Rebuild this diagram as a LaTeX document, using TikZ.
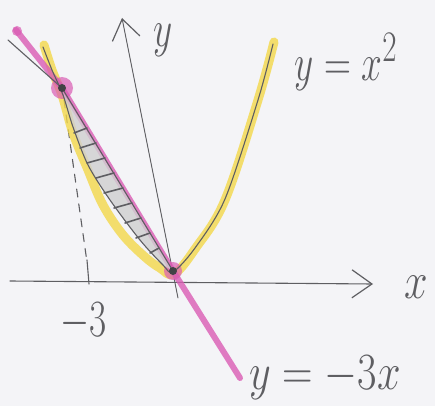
\documentclass[tikz,border=0pt]{standalone}
\usepackage{tikz}
\usetikzlibrary{arrows.meta}
\definecolor{paper}{HTML}{F4F4F7}
\definecolor{lead}{HTML}{5E5E62}
\definecolor{hilite}{HTML}{F3D84A}
\definecolor{rosy}{HTML}{DA5CB4}
\tikzset{pencil/.style={draw=lead,line width=1.1pt,line cap=round,line join=round},marker/.style={line width=9pt,line cap=round,line join=round,opacity=.8},hand/.style={font=\fontsize{24.88}{30}\selectfont,text=lead,inner sep=0pt},barb/.style={-{Straight Barb[length=20pt,width=28pt,line width=1.2pt]}}}
\newcommand{\handtxt}[2][1.5]{\scalebox{#1}[2.1]{$#2$}}

\begin{document}
\begin{tikzpicture}[x=1pt,y=-1pt]
\fill[paper] (0,0) rectangle (435,406);
\coordinate (xs) at (10,281);
\coordinate (xe) at (373,284);
\coordinate (ys) at (178,298);
\coordinate (ye) at (122,18);
\coordinate (A) at (62,88);
\coordinate (O) at (173,271);
% axes
\draw[pencil,barb] (xs) -- (xe);
\draw[pencil,line width=.9pt,barb] (ys) -- (ye);
\draw[pencil,dash pattern=on 8pt off 7pt] (64,100) -- (87,262);
\draw[pencil] (87,260) -- (89,284);
% marker strokes
\draw[marker,draw=hilite] plot[smooth,tension=.6] coordinates {(44,45) (52,70) (62,95) (73,133) (88,170) (103,205) (123,235) (145,257) (160,268) (174,274) (195,249) (225,200) (258,100) (274,42)};
\draw[marker,draw=rosy,line width=6pt] (16,30) -- (A) -- (O) -- (240,378);
\fill[rosy,opacity=.7] (A) circle (11);
\fill[rosy,opacity=.7] (O) circle (9);
\fill[rosy,opacity=.7] (17,31) circle (5);
% shaded area
\fill[lead!30,opacity=.8] (63,92) -- (O) -- plot[smooth] coordinates {(163,265) (140,240) (110,200) (88,165) (73,127) (64,96)} -- cycle;
\foreach \y/\a/\b in {130/74/87,145/80/96,160/87/105,175/96/114,190/104/123,205/114/132,220/125/141,235/136/150,250/150/159}{\draw[pencil,line width=1.6pt] (\a,\y+3) -- (\b,\y-2);}
% pencil lines
\draw[pencil] plot[smooth] coordinates {(43,47) (52,70) (63,95) (73,127) (88,165) (110,200) (140,240) (163,265) (173,272) (195,248) (225,199) (258,100) (273,44)};
\draw[pencil] (8,40) -- (A) -- (O);
\fill[lead!70!black] (A) circle (4);
\fill[lead!70!black] (O) circle (4);
% labels
\node[hand] (ylab) at (163,40) {\handtxt{y}};
\node[hand] (parlab) at (346,62) {\handtxt{y=x^2}};
\node[hand] (xlab) at (416,287) {\handtxt[1.7]{x}};
\node[hand] (mthree) at (84,322) {\handtxt{-3}};
\node[hand] (linelab) at (325,378) {\handtxt[1.7]{y=-3x}};
\end{tikzpicture}
\end{document}
